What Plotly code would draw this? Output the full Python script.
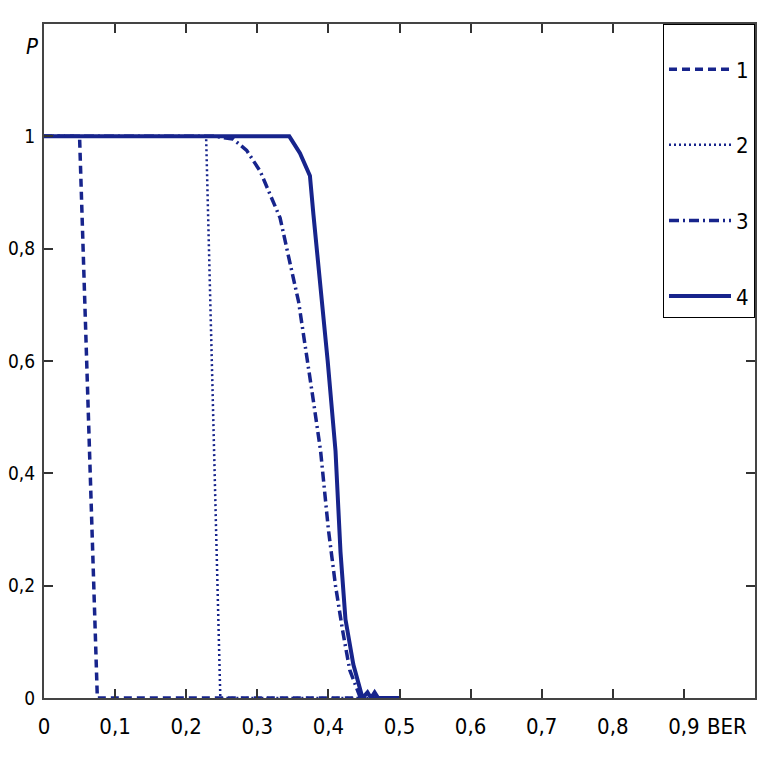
import plotly.graph_objects as go

# ---- data ----
x1 = [0, 0.05, 0.075, 0.5]
y1 = [1, 1, 0, 0]

x2 = [0, 0.228, 0.248, 0.5]
y2 = [1, 1, 0, 0]

x3 = [0, 0.24, 0.266, 0.285, 0.304, 0.332, 0.345, 0.358, 0.379, 0.389, 0.4, 0.41, 0.42, 0.43, 0.445, 0.5]
y3 = [1, 1, 0.995, 0.975, 0.938, 0.855, 0.78, 0.706, 0.528, 0.44, 0.3, 0.2, 0.12, 0.05, 0, 0]

x4 = [0, 0.345, 0.36, 0.374, 0.379, 0.39, 0.399, 0.41, 0.417, 0.424, 0.435, 0.448, 0.455, 0.46, 0.465, 0.47, 0.476, 0.5]
y4 = [1, 1, 0.97, 0.93, 0.86, 0.72, 0.6, 0.44, 0.26, 0.14, 0.06, 0, 0.01, 0, 0.01, 0, 0, 0]

names = ["1", "2", "3", "4"]

x_ticks = [0, 0.1, 0.2, 0.3, 0.4, 0.5, 0.6, 0.7, 0.8, 0.9]
x_ticklabels = ["0", "0,1", "0,2", "0,3", "0,4", "0,5", "0,6", "0,7", "0,8", "0,9"]
y_ticks = [0, 0.2, 0.4, 0.6, 0.8, 1]
y_ticklabels = ["0", "0,2", "0,4", "0,6", "0,8", "1"]

COLOR = "#17248c"
FONT = "DejaVu Sans Condensed, Liberation Sans Narrow, Liberation Sans, Arial, sans-serif"
FS = 22

fig = go.Figure()
series = [(x1, y1, "8px,5px", 3.5), (x2, y2, "2px,3px", 2.5), (x3, y3, "10px,4px,2px,4px", 3.5), (x4, y4, "solid", 4)]
for (xs, ys, dash, w), nm in zip(series, names):
    fig.add_trace(go.Scatter(x=xs, y=ys, mode="lines", name=nm, legendgroup=nm,
                             line=dict(color=COLOR, width=w, dash=dash)))

axis_common = dict(showgrid=False, zeroline=False, showline=True, linecolor="#444",
                   linewidth=2, mirror="ticks", ticks="inside", ticklen=9, tickwidth=1.5,
                   tickcolor="#333", automargin=False)

fig.update_xaxes(range=[0, 1], tickvals=x_ticks, ticktext=x_ticklabels, ticklabelstandoff=8,
                 tickfont=dict(family=FONT, size=FS, color="black"), **axis_common)
fig.update_yaxes(range=[0, 1.2], tickvals=y_ticks, ticktext=y_ticklabels, ticklabelstandoff=3,
                 tickfont=dict(family=FONT, size=19, color="black"), **axis_common)

fig.add_annotation(x=0.96, y=0, xref="x", yref="paper", text="BER", showarrow=False,
                   yanchor="top", yshift=-14, font=dict(family=FONT, size=FS, color="black"))
fig.add_annotation(x=0, y=1.2, xref="paper", yref="y", text="<i>P</i>", showarrow=False,
                   xanchor="right", xshift=-4, yshift=-22, font=dict(family=FONT, size=FS, color="black"))

# page body has an 8px default margin; figure size/margins compensate so the plot
# area sits at the same pixel position as in the reference
fig.update_layout(
    width=760, height=760,
    margin=dict(l=36, r=13, t=16, b=70),
    plot_bgcolor="white", paper_bgcolor="white",
    legend=dict(x=1, y=1, xanchor="right", yanchor="top", bordercolor="black", borderwidth=1,
                bgcolor="white", tracegroupgap=44, font=dict(family=FONT, size=FS, color="black"),
                itemwidth=62, title=dict(text="\u00a0", font=dict(size=18))),
)

fig.write_html("out.html")
